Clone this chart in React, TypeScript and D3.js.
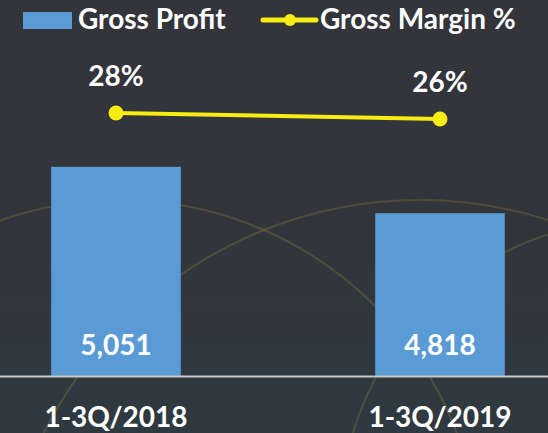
import React from "react";
import * as d3 from "d3";

const categories = ["1-3Q/2018", "1-3Q/2019"];
const grossProfit = [5051, 4818];
const grossMargin = [28, 26];
const seriesNames = ["Gross Profit", "Gross Margin %"];

const W = 548;
const H = 433;
const BAR = "#5b9bd5";
const LINE = "#f7ec13";
const FONT = "Lato, 'Open Sans', sans-serif";

export default function App() {
  const x = d3.scaleBand<string>().domain(categories).range([-46, 602]).paddingInner(0.6).paddingOuter(0.3);
  const baseY = 376;
  const y = d3.scaleLinear().domain([4000, 5500]).range([baseY, 77.5]);
  const y2 = d3.scaleLinear().domain([0, 40]).range([197, 77]);
  const cx = (c: string) => (x(c) ?? 0) + x.bandwidth() / 2;
  const line = d3
    .line<number>()
    .x((_, i) => cx(categories[i]))
    .y((d) => y2(d));
  const fmt = d3.format(",");

  // decorative background arcs
  const arcs = [
    { cx: 420, cy: 620, r: 420 },
    { cx: 120, cy: 560, r: 360 },
    { cx: 640, cy: 520, r: 300 },
  ];

  return (
    <svg width={W} height={H} style={{ display: "block", position: "absolute", left: 0, top: 0 }}>
      <defs>
        <linearGradient id="bg" x1="0" y1="0" x2="0" y2="1">
          <stop offset="0" stopColor="#33353b" />
          <stop offset="0.45" stopColor="#32353b" />
          <stop offset="1" stopColor="#2e3a40" />
        </linearGradient>
      </defs>
      <rect width={W} height={H} fill="url(#bg)" />
      <g fill="none" stroke="#8a7a3a" strokeOpacity={0.35} strokeWidth={2}>
        {arcs.map((a, i) => (
          <circle key={i} cx={a.cx} cy={a.cy} r={a.r} />
        ))}
      </g>

      {/* legend */}
      <rect x={23} y={12} width={49} height={17} fill={BAR} />
      <text x={78} y={29} fill="#fff" fontFamily={FONT} fontWeight={700} fontSize={28}>
        {seriesNames[0]}
      </text>
      <line x1={263} x2={316} y1={20} y2={20} stroke={LINE} strokeWidth={5} strokeLinecap="round" />
      <circle cx={290} cy={20} r={6} fill={LINE} />
      <text x={320} y={29} fill="#fff" fontFamily={FONT} fontWeight={700} fontSize={28}>
        {seriesNames[1]}
      </text>

      {/* bars */}
      {categories.map((c, i) => (
        <rect key={c} x={x(c)} y={y(grossProfit[i])} width={x.bandwidth()} height={baseY - y(grossProfit[i])} fill={BAR} />
      ))}
      <line x1={0} x2={W} y1={baseY + 0.5} y2={baseY + 0.5} stroke="#c8c8c8" strokeWidth={2} />

      {/* bar value labels */}
      {categories.map((c, i) => (
        <text key={c} x={cx(c)} y={355} textAnchor="middle" fill="#fff" fontFamily={FONT} fontWeight={700} fontSize={28}>
          {fmt(grossProfit[i])}
        </text>
      ))}

      {/* category labels */}
      {categories.map((c) => (
        <text key={c} x={cx(c)} y={427} textAnchor="middle" fill="#fff" fontFamily={FONT} fontWeight={700} fontSize={28}>
          {c}
        </text>
      ))}

      {/* line */}
      <path d={line(grossMargin) ?? ""} fill="none" stroke={LINE} strokeWidth={4} />
      {categories.map((c, i) => (
        <circle key={c} cx={cx(c)} cy={y2(grossMargin[i])} r={7.5} fill={LINE} />
      ))}
      {categories.map((c, i) => (
        <text key={c} x={cx(c)} y={y2(grossMargin[i]) - 27} textAnchor="middle" fill="#fff" fontFamily={FONT} fontWeight={700} fontSize={28}>
          {grossMargin[i]}%
        </text>
      ))}
    </svg>
  );
}
